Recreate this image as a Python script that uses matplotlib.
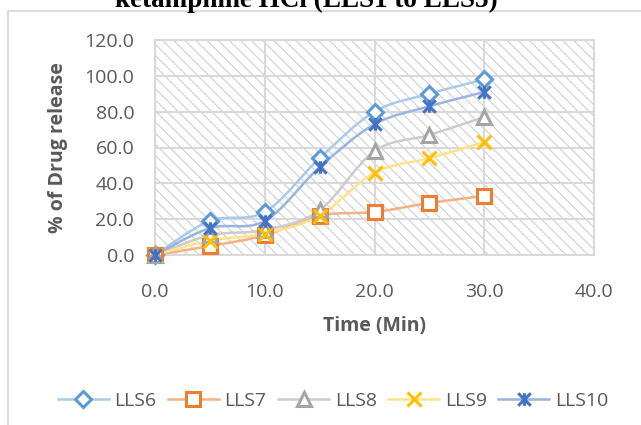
#!/usr/bin/env python3
import numpy as np
import matplotlib
matplotlib.use("Agg")
import matplotlib.pyplot as plt
from matplotlib.path import Path
from matplotlib.patches import PathPatch, Rectangle
from matplotlib.lines import Line2D

# data
time_min = [0, 5, 10, 15, 20, 25, 30]
lls6 = [0, 19, 24, 54, 80, 90, 98]
lls7 = [0, 5, 11, 22, 24, 29, 33]
lls8 = [0, 11, 14, 25, 58, 67, 77]
lls9 = [0, 8, 12, 22, 46, 54, 63]
lls10 = [0, 15, 19, 49, 73, 83, 91]
series_names = ["LLS6", "LLS7", "LLS8", "LLS9", "LLS10"]

plt.rcParams['font.family'] = ['Open Sans', 'DejaVu Sans']
plt.rcParams['hatch.linewidth'] = 0.8

GRID = '#d9d9d9'
TXT = '#595959'

# asterisk marker like Excel's "star"
star = Path([(-1, -1), (1, 1), (-1, 1), (1, -1), (0, -1), (0, 1)],
            [Path.MOVETO, Path.LINETO, Path.MOVETO, Path.LINETO, Path.MOVETO, Path.LINETO])

styles = [
    # line color, marker color, marker, size
    ('#a9cbe9', '#5b9bd5', 'D', 8),
    ('#f4b183', '#ed7d31', 's', 10),
    ('#cccccc', '#a5a5a5', '^', 10),
    ('#ffe38a', '#ffc000', 'x', 10),
    ('#9bb3e0', '#4472c4', star, 9),
]


def smooth_path(x, y):
    # catmull-rom as cubic bezier, like Excel's smoothed line
    pts = np.column_stack([x, y]).astype(float)
    verts = [pts[0]]
    codes = [Path.MOVETO]
    n = len(pts)
    for i in range(n - 1):
        p0 = pts[i - 1] if i > 0 else pts[i]
        p1 = pts[i]
        p2 = pts[i + 1]
        p3 = pts[i + 2] if i + 2 < n else pts[i + 1]
        c1 = p1 + (p2 - p0) / 6.0
        c2 = p2 - (p3 - p1) / 6.0
        verts += [c1, c2, p2]
        codes += [Path.CURVE4] * 3
    return Path(verts, codes)


fig = plt.figure(figsize=(6.41, 4.25), dpi=100)
ax = fig.add_axes([155 / 641, 1 - 255 / 425, (594 - 155) / 641, (255 - 40) / 425])

# hatched plot area
ax.add_patch(Rectangle((0, 0), 1, 1, transform=ax.transAxes, fc='none', ec='#d0d0d0',
                       lw=0, hatch='\\\\\\', zorder=0))

# outer chart border (goes past the crop on right/bottom)
fig.patches.append(Rectangle((8 / 641, -0.2), 2, 1 - 11 / 425 + 0.2, transform=fig.transFigure,
                             fill=False, ec=GRID, lw=1.3, zorder=0))
fig.text(306 / 641, 1 - 7 / 425, "ketamphine HCl (LLS1 to LLS5)", family='Liberation Serif',
         fontweight='bold', fontsize=19.5, ha='center', va='baseline', color='black')

all_y = [lls6, lls7, lls8, lls9, lls10]
handles = []
for name, yv, (lc, mc, mk, ms) in zip(series_names, all_y, styles):
    ax.add_patch(PathPatch(smooth_path(time_min, yv), fill=False, ec=lc, lw=1.8, zorder=3))
    filled = mk in ('D', 's', '^')
    ax.plot(time_min, yv, ls='none', marker=mk, ms=ms, mec=mc,
            mfc='white' if filled else mc, mew=2.2, zorder=4, clip_on=False)
    handles.append(Line2D([], [], color=lc, lw=1.8, marker=mk, ms=ms, mec=mc,
                          mfc='white' if filled else mc, mew=2.2, label=name))

ax.set_xlim(0, 40)
ax.set_ylim(0, 120)
ax.set_xticks(range(0, 41, 10))
ax.set_yticks(range(0, 121, 20))
ax.set_xticklabels([f"{v:.1f}" for v in range(0, 41, 10)])
ax.set_yticklabels([f"{v:.1f}" for v in range(0, 121, 20)])
ax.tick_params(length=0, labelsize=14, labelcolor=TXT)
ax.tick_params(axis='x', pad=20)
ax.tick_params(axis='y', pad=15)
ax.grid(True, color=GRID, lw=1.5, zorder=1)
ax.set_axisbelow(True)
for s in ax.spines.values():
    s.set_color(GRID)
    s.set_linewidth(1.5)

ax.set_xlabel("Time (Min)", fontsize=14, fontweight='bold', color=TXT, labelpad=11)
ax.set_ylabel("% of Drug release", fontsize=14, fontweight='bold', color=TXT, labelpad=12)

fig.legend(handles=handles, loc='center', bbox_to_anchor=(333 / 641, 1 - 401 / 425), ncol=5,
           frameon=False, fontsize=14, labelcolor=TXT, handlelength=2.6, handletextpad=0.3,
           columnspacing=0.6)

fig.savefig("out.png", dpi=100)
